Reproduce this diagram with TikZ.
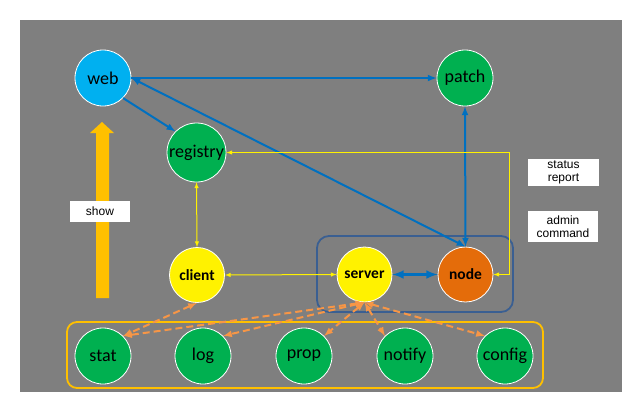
\documentclass[tikz,border=0pt]{standalone}
\usepackage{fontspec}
\setmainfont{Carlito}
\newfontfamily\tagfont{Liberation Sans}
\usetikzlibrary{positioning,shapes,arrows}
\definecolor{bggray}{HTML}{7F7F7F}
\definecolor{webblue}{HTML}{00B0F0}
\definecolor{compgreen}{HTML}{00B050}
\definecolor{nodeorange}{HTML}{E46C0A}
\definecolor{linkblue}{HTML}{0070C0}
\definecolor{groupblue}{HTML}{3A5F92}
\definecolor{gold}{HTML}{FFC000}
\definecolor{dashorange}{HTML}{F79646}

\begin{document}
\begin{tikzpicture}[x=1pt,y=-1pt,
  comp/.style={circle, draw=white, line width=0.8pt, minimum size=56pt, inner sep=0pt, font=\fontsize{18}{18}\selectfont},
  core/.style={comp, fill=yellow, minimum size=55pt, font=\fontsize{15.5}{15.5}\selectfont\bfseries},
  tag/.style={fill=white, inner sep=0pt, align=center, font=\tagfont\fontsize{12}{13.5}\selectfont},
  bluelink/.style={linkblue, line width=2pt, >=latex},
  yellink/.style={yellow, line width=1pt, >=latex},
  dashlink/.style={dashorange, line width=2pt, dash pattern=on 7pt off 4pt, >=latex}]
% canvas
\fill[white] (0,0) rectangle (633,400);
\useasboundingbox (0,0) rectangle (633,400);
\fill[bggray] (20,20) rectangle (622,392);
% groups
\draw[groupblue, line width=1.8pt, rounded corners=12pt] (317,236) rectangle (513,312);
\draw[gold, line width=1.8pt, rounded corners=10pt] (67,322) rectangle (543,388);
% show arrow
\fill[gold] (96,298) -- (96,133) -- (90,133) -- (102,122) -- (114,133) -- (109,133) -- (109,298) -- cycle;
\node[tag, minimum width=60pt, minimum height=21pt] (show) at (100,211.5) {show};
% top row
\node[comp, fill=webblue] (web) at (103,78) {web};
\node[comp, fill=compgreen] (patch) at (465,78) {patch};
\node[comp, fill=compgreen, minimum size=59pt] (registry) at (196.5,152.5) {registry};
% middle row
\node[core] (client) at (197,275) {client};
\node[core] (server) at (364.5,274.5) {server};
\node[core, fill=nodeorange] (node) at (465.5,274.5) {node};
% bottom row
\foreach \name/\x in {stat/103,log/203,prop/304,notify/405,config/505}
  \node[comp, fill=compgreen] (\name) at (\x,356) {\name};
% blue links
\draw[bluelink,->] (web.east) -- (patch.west);
\draw[bluelink,<->] (web.east) -- (node.north);
\draw[bluelink,->] (web.south east) -- (registry.north west);
\draw[bluelink,<->] (patch.south) -- (node.north);
\draw[bluelink,<->, line width=2.8pt] (server.east) -- (node.west);
% yellow links
\draw[yellink,<->] (registry.south) -- (client.north);
\draw[yellink,<->] (client.east) -- (server.west);
\draw[yellink,<->] (node.east) -- ++(16,0) |- (registry.east);
% orange links
\draw[dashlink,<->] (client.south) -- (stat.north east);
\foreach \name in {stat,log,prop}
  \draw[dashlink,<->] (server.south) -- (\name.north east);
\foreach \name in {notify,config}
  \draw[dashlink,<->] (server.south) -- (\name.north west);
% tags
\node[tag, minimum width=71pt, minimum height=27pt] (status) at (563.5,172.5) {status\\report};
\node[tag, minimum width=70pt, minimum height=31pt] (admin) at (563,226.5) {admin\\command};
\end{tikzpicture}
\end{document}
